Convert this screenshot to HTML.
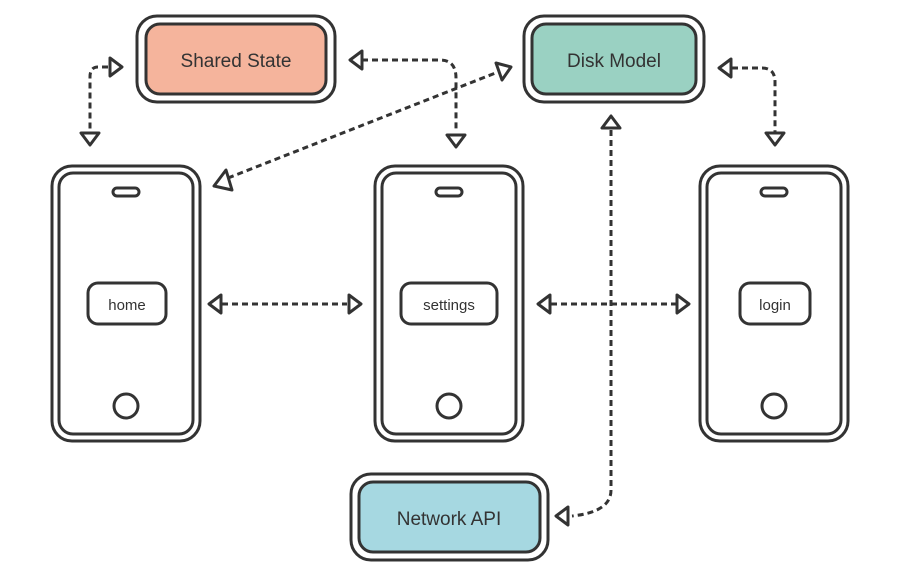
<!DOCTYPE html><html><head><meta charset="utf-8"><style>body{margin:0;background:#fff}svg{display:block}text{font-family:"Liberation Sans",sans-serif;fill:#333}</style></head><body>
<svg width="900" height="578" viewBox="0 0 900 578" xmlns="http://www.w3.org/2000/svg">
<defs>
<g id="phone">
<rect x="0" y="0" width="148" height="275" rx="20" fill="#fff" stroke="#333" stroke-width="3"/>
<rect x="7" y="7" width="134" height="261" rx="14" fill="none" stroke="#333" stroke-width="3"/>
<rect x="61" y="22" width="26" height="8" rx="4" fill="none" stroke="#333" stroke-width="3"/>
<circle cx="74" cy="240" r="12" fill="none" stroke="#333" stroke-width="3"/>
</g>
</defs>
<g fill="none" stroke="#333" stroke-width="3" stroke-dasharray="6,4">
<path d="M108 67 H98 Q90 67 90 77 V130"/>
<path d="M362 60 H440 Q456 60 456 78 V132"/>
<path d="M228 178 L498 72"/>
<path d="M732 68 H762 Q775 68 775 82 V132"/>
<path d="M611 130 V490 Q611 512 572 516"/>
<path d="M222 304 H347"/>
<path d="M551 304 H676"/>
</g>
<g fill="#fff" stroke="#333" stroke-width="3" stroke-linejoin="round">
<path d="M110 58 L122 67 L110 76 Z"/>
<path d="M81 133 L99 133 L90 145 Z"/>
<path d="M362 51 L350 60 L362 69 Z"/>
<path d="M447 135 L465 135 L456 147 Z"/>
<path d="M226 170 L214 186 L232 190 Z"/>
<path d="M496 63 L511 67 L502 80 Z"/>
<path d="M731 59 L719 68 L731 77 Z"/>
<path d="M766 133 L784 133 L775 145 Z"/>
<path d="M602 128 L620 128 L611 116 Z"/>
<path d="M568 507 L556 516 L568 525 Z"/>
<path d="M221 295 L209 304 L221 313 Z"/>
<path d="M349 295 L361 304 L349 313 Z"/>
<path d="M550 295 L538 304 L550 313 Z"/>
<path d="M677 295 L689 304 L677 313 Z"/>
</g>
<g stroke="#333" stroke-width="3">
<rect x="137" y="16" width="198" height="86" rx="20" fill="#fff"/>
<rect x="146" y="24" width="180" height="70" rx="14" fill="#f5b49c"/>
<rect x="524" y="16" width="180" height="86" rx="20" fill="#fff"/>
<rect x="532" y="24" width="164" height="70" rx="14" fill="#9ad1c2"/>
<rect x="351" y="474" width="197" height="86" rx="20" fill="#fff"/>
<rect x="359" y="482" width="181" height="70" rx="14" fill="#a6d8e1"/>
</g>
<text x="236" y="67" font-size="19" text-anchor="middle">Shared State</text>
<text x="614" y="67" font-size="19" text-anchor="middle">Disk Model</text>
<text x="449" y="525" font-size="19" text-anchor="middle">Network API</text>
<use href="#phone" x="52" y="166"/>
<use href="#phone" x="375" y="166"/>
<use href="#phone" x="700" y="166"/>
<g fill="#fff" stroke="#333" stroke-width="3">
<rect x="88" y="283" width="78" height="41" rx="10"/>
<rect x="401" y="283" width="96" height="41" rx="10"/>
<rect x="740" y="283" width="70" height="41" rx="10"/>
</g>
<text x="127" y="310" font-size="15" text-anchor="middle">home</text>
<text x="449" y="310" font-size="15" text-anchor="middle">settings</text>
<text x="775" y="310" font-size="15" text-anchor="middle">login</text>
</svg>
</body></html>
